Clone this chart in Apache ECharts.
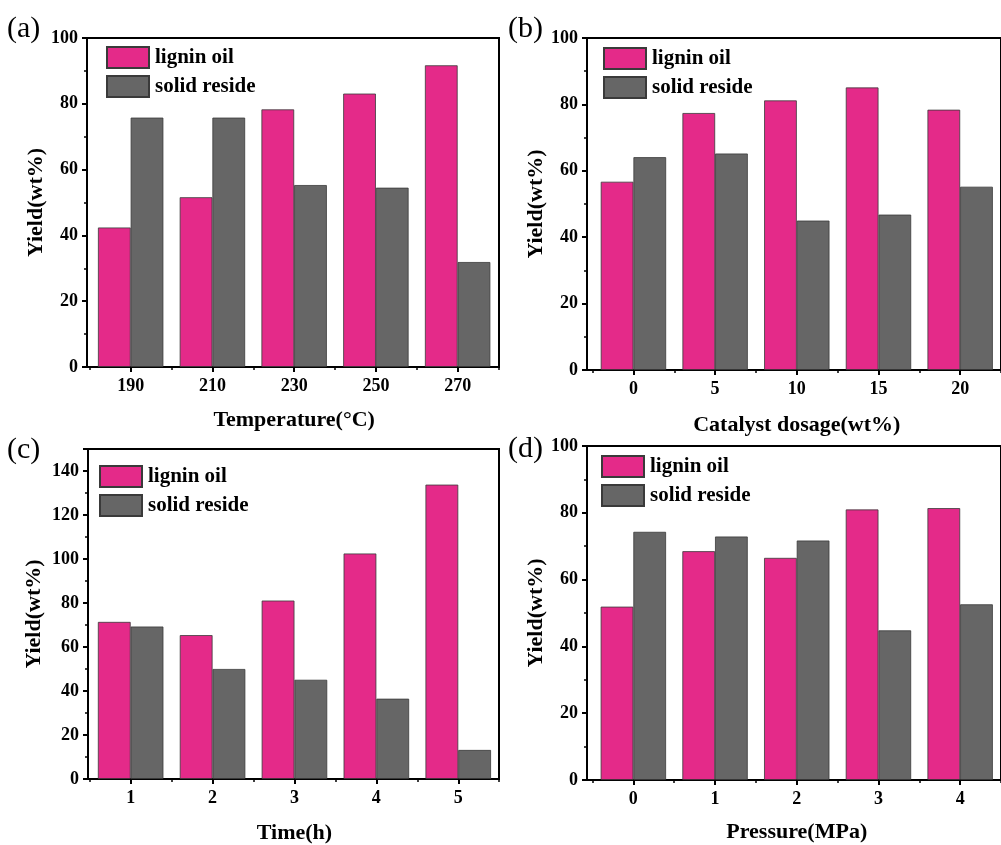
<!DOCTYPE html>
<html>
<head>
<meta charset="utf-8">
<script src="https://cdn.jsdelivr.net/npm/echarts@6/dist/echarts.min.js"></script>
<style>
  html, body { margin: 0; padding: 0; background: #fff; }
  #chart { width: 1001px; height: 845px; }
</style>
</head>
<body>
<div id="chart"></div>
<script>
// ---- data ----
const seriesNames = ['lignin oil', 'solid reside'];

const temperatureCats = ['190', '210', '230', '250', '270'];
const temperatureOil = [42.4, 51.6, 78.3, 83.1, 91.7];
const temperatureResidue = [75.8, 75.8, 55.3, 54.5, 31.9];

const dosageCats = ['0', '5', '10', '15', '20'];
const dosageOil = [56.7, 77.4, 81.2, 85.1, 78.4];
const dosageResidue = [64.1, 65.2, 45.0, 46.8, 55.2];

const timeCats = ['1', '2', '3', '4', '5'];
const timeOil = [71.4, 65.4, 81.1, 102.5, 133.8];
const timeResidue = [69.3, 50.0, 45.1, 36.5, 13.2];

const pressureCats = ['0', '1', '2', '3', '4'];
const pressureOil = [51.9, 68.5, 66.5, 81.0, 81.4];
const pressureResidue = [74.3, 72.9, 71.7, 44.8, 52.6];

// y-axis ranges (min, max, step) per panel
const yRangeA = [0, 100, 20];
const yRangeB = [0, 100, 20];
const yRangeC = [0, 150, 20];
const yRangeD = [0, 100, 20];

const panelLabels = ['(a)', '(b)', '(c)', '(d)'];
const xTitles = ['Temperature(\u00B0C)', 'Catalyst dosage(wt%)', 'Time(h)', 'Pressure(MPa)'];
const yTitle = 'Yield(wt%)';

// ---- layout / style ----
const FONT = 'Liberation Serif';
const OIL_COLOR = '#E42A89';
const RES_COLOR = '#666666';

const panels = [
  { cats: temperatureCats, oil: temperatureOil, res: temperatureResidue, y: yRangeA,
    frame: { left: 87, top: 38, width: 412, height: 329 }, dataLeft: 89.8, dataWidth: 408.7,
    legend: { left: 106, top: 46 }, label: { x: 7, y: 14 }, nameGap: 42, yNameGap: 40 },
  { cats: dosageCats, oil: dosageOil, res: dosageResidue, y: yRangeB,
    frame: { left: 587, top: 38, width: 425, height: 332 }, dataLeft: 592.6, dataWidth: 413.5,
    legend: { left: 603, top: 47 }, label: { x: 508, y: 14 }, nameGap: 44, yNameGap: 37 },
  { cats: timeCats, oil: timeOil, res: timeResidue, y: yRangeC,
    frame: { left: 88, top: 449, width: 411, height: 330 }, dataLeft: 89.7, dataWidth: 409.5,
    legend: { left: 99, top: 465 }, label: { x: 7, y: 435 }, nameGap: 43, yNameGap: 43 },
  { cats: pressureCats, oil: pressureOil, res: pressureResidue, y: yRangeD,
    frame: { left: 587, top: 446, width: 425, height: 334 }, dataLeft: 592.5, dataWidth: 414.5,
    legend: { left: 601, top: 455 }, label: { x: 508, y: 434 }, nameGap: 41, yNameGap: 37 }
];

const grid = [], xAxis = [], yAxis = [], series = [], legend = [], graphic = [];

panels.forEach((p, i) => {
  const frameIdx = grid.length;
  grid.push(Object.assign({ show: true, borderColor: '#000', borderWidth: 2,
    backgroundColor: 'transparent', containLabel: false }, p.frame));
  const dataIdx = grid.length;
  grid.push({ left: p.dataLeft, top: p.frame.top, width: p.dataWidth, height: p.frame.height,
    containLabel: false });

  // frame grid: visible y axis, hidden x axis
  xAxis.push({ type: 'value', gridIndex: frameIdx, show: false, min: 0, max: 1 });
  yAxis.push({
    type: 'value', gridIndex: frameIdx, min: p.y[0], max: p.y[1], interval: p.y[2],
    name: yTitle, nameLocation: 'middle', nameGap: p.yNameGap,
    nameTextStyle: { fontFamily: FONT, fontWeight: 'bold', fontSize: 22, color: '#000' },
    axisLine: { show: true, lineStyle: { color: '#000', width: 2 } },
    axisTick: { show: true, inside: false, length: 5, lineStyle: { color: '#000', width: 2 } },
    minorTick: { show: true, splitNumber: 2, length: 3, lineStyle: { color: '#000', width: 1.5 } },
    splitLine: { show: false },
    axisLabel: { fontFamily: FONT, fontWeight: 'bold', fontSize: 18, color: '#000', margin: 9,
      showMaxLabel: p.y[1] % p.y[2] === 0 }
  });

  // data grid: category axis with centred ticks, plus boundary ticks
  const dx = xAxis.length;
  xAxis.push({
    type: 'category', gridIndex: dataIdx, data: p.cats,
    name: xTitles[i], nameLocation: 'middle', nameGap: p.nameGap,
    nameTextStyle: { fontFamily: FONT, fontWeight: 'bold', fontSize: 22, color: '#000' },
    axisLine: { show: false },
    axisTick: { show: true, alignWithLabel: true, length: 5, lineStyle: { color: '#000', width: 2 } },
    axisLabel: { fontFamily: FONT, fontWeight: 'bold', fontSize: 18, color: '#000', margin: 10 }
  });
  xAxis.push({
    type: 'category', gridIndex: dataIdx, data: p.cats, position: 'bottom',
    axisLine: { show: false }, axisLabel: { show: false },
    axisTick: { show: true, length: 3, lineStyle: { color: '#000', width: 1.5 } }
  });
  const dy = yAxis.length;
  yAxis.push({ type: 'value', gridIndex: dataIdx, min: p.y[0], max: p.y[1], show: false });

  const barStyle = (c) => ({ color: c, borderColor: '#3a3a3a', borderWidth: 0.8 });
  series.push({
    type: 'bar', name: seriesNames[0], xAxisIndex: dx, yAxisIndex: dy, data: p.oil,
    barGap: '0%', barCategoryGap: '20%', itemStyle: barStyle(OIL_COLOR)
  });
  series.push({
    type: 'bar', name: seriesNames[1], xAxisIndex: dx, yAxisIndex: dy, data: p.res,
    barGap: '0%', barCategoryGap: '20%', itemStyle: barStyle(RES_COLOR)
  });

  legend.push({
    data: seriesNames.map(n => ({ name: n, icon: 'rect' })),
    orient: 'vertical', left: p.legend.left, top: p.legend.top,
    itemWidth: 42, itemHeight: 21, itemGap: 6, padding: 0, selectedMode: false,
    textStyle: { fontFamily: FONT, fontWeight: 'bold', fontSize: 21, color: '#000', padding: [0, 0, 0, 1] }
  });

  graphic.push({
    type: 'text', left: p.label.x, top: p.label.y,
    style: { text: panelLabels[i], fontFamily: FONT, fontSize: 30, fill: '#000' }
  });
});

const chart = echarts.init(document.getElementById('chart'), null, { renderer: 'canvas' });
chart.setOption({
  animation: false,
  backgroundColor: '#fff',
  grid, xAxis, yAxis, series, legend, graphic
});
</script>
</body>
</html>
